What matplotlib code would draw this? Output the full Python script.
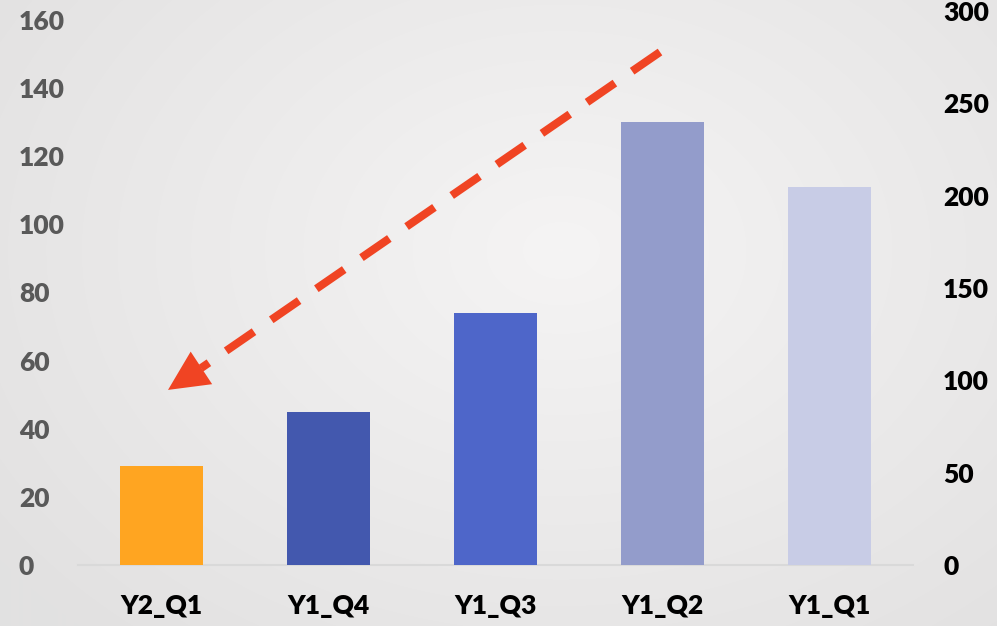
import numpy as np
import matplotlib
matplotlib.use("Agg")
import matplotlib.pyplot as plt
from matplotlib.colors import LinearSegmentedColormap
from matplotlib import font_manager

plt.rcParams['font.family'] = ['Lato', 'DejaVu Sans']
plt.rcParams['font.weight'] = 'heavy'

categories = ["Y2_Q1", "Y1_Q4", "Y1_Q3", "Y1_Q2", "Y1_Q1"]
values = [29, 45, 74, 130, 111]
bar_colors = ["#FFA521", "#4358AE", "#4E66C9", "#939CCB", "#C8CCE6"]
left_ticks = [0, 20, 40, 60, 80, 100, 120, 140, 160]
right_ticks = [0, 50, 100, 150, 200, 250, 300]

W, H = 997, 626
fig = plt.figure(figsize=(W / 100, H / 100), dpi=100)

# background radial gradient
bg = fig.add_axes([0, 0, 1, 1], zorder=-10)
yy, xx = np.mgrid[0:H, 0:W]
cx, cy = 560, 250
r = np.sqrt(((xx - cx) / 700.0) ** 2 + ((yy - cy) / 520.0) ** 2)
r = np.clip(r, 0, 1)
cmap = LinearSegmentedColormap.from_list("bg", ["#F5F4F4", "#E2E1E1"])
bg.imshow(r, cmap=cmap, aspect="auto", extent=[0, 1, 0, 1], origin="upper")
bg.axis("off")

ax = fig.add_axes([78 / W, 1 - 565 / H, (913 - 78) / W, (565 - 20) / H])
ax.set_facecolor("none")
x = np.arange(len(categories))
ax.bar(x, values, width=0.5, color=bar_colors, zorder=3)
ax.set_xlim(-0.5, len(categories) - 0.5)
ax.set_ylim(0, 160)
ax.set_yticks(left_ticks)
ax.set_xticks(x)
ax.set_xticklabels(categories)
for s in ["top", "right", "left"]:
    ax.spines[s].set_visible(False)
ax.spines["bottom"].set_color("#D9D9D9")
ax.spines["bottom"].set_linewidth(1.5)
ax.tick_params(axis="y", length=0, pad=42.5, labelsize=19, labelcolor="#595959")
for lbl in ax.get_yticklabels():
    lbl.set_horizontalalignment("left")
ax.tick_params(axis="x", length=0, pad=21, labelsize=19, labelcolor="#000000")

# secondary axis (slightly taller span, as in the reference)
ax2 = fig.add_axes([78 / W, 1 - 565 / H, (913 - 78) / W, (565 - 11) / H], sharex=ax)
ax2.set_facecolor("none")
ax2.yaxis.tick_right()
ax2.set_ylim(0, 300)
ax2.set_yticks(right_ticks)
for s in ["top", "right", "left", "bottom"]:
    ax2.spines[s].set_visible(False)
ax2.tick_params(axis="x", bottom=False, labelbottom=False)
ax2.tick_params(axis="y", length=0, pad=21.6, labelsize=19, labelcolor="#000000")

# dashed arrow annotation (trend from Y1_Q2 region down to Y2_Q1)
red = "#F04423"
start = (2.985, 150.6)
base = (0.237, 57.8)
tip = (0.039, 51.4)
ax2.plot([], [])
ax.plot([start[0], base[0]], [start[1], base[1]], color=red, lw=5.8,
        linestyle=(0, (4.2, 2.6)), solid_capstyle="butt", dash_capstyle="butt", zorder=5, clip_on=False)
ax.annotate("", xy=tip, xytext=base,
            arrowprops=dict(arrowstyle="-|>,head_length=0.4,head_width=0.195",
                            mutation_scale=72, color=red, lw=0,
                            shrinkA=0, shrinkB=0), zorder=6)

fig.savefig("out.png", dpi=100)
